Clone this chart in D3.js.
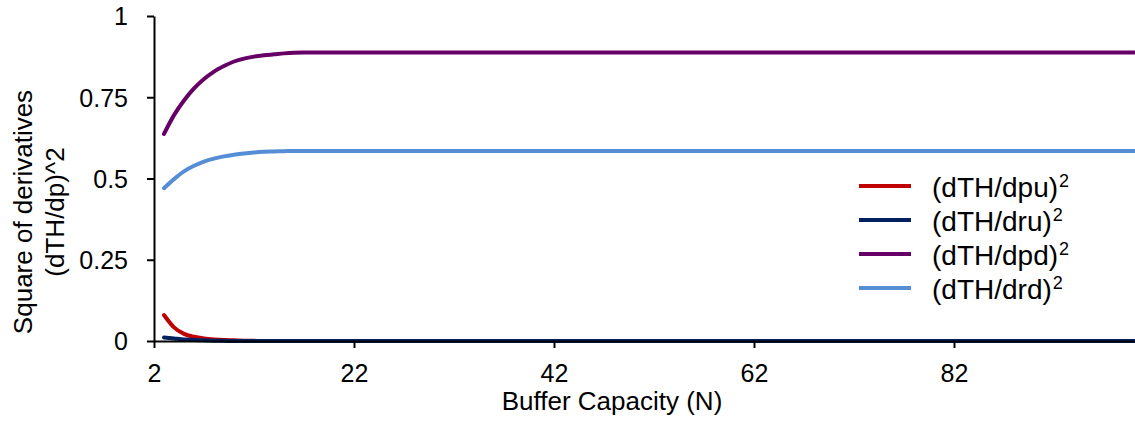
<!DOCTYPE html>
<html>
<head>
<meta charset="utf-8">
<script src="https://cdn.jsdelivr.net/npm/d3@7"></script>
<style>
  html, body { margin: 0; padding: 0; background: #fff; }
  svg { display: block; font-family: "Liberation Sans", Arial, sans-serif; }
</style>
</head>
<body>
<svg id="chart" width="1135" height="426"></svg>
<script>
// Buffer capacity values (N)
const capacity = [3, 4, 5, 6, 7, 8, 9, 10, 11, 12, 13, 14, 15, 16, 17, 18, 20, 30, 40, 50, 60, 70, 80, 90, 100];

// Squared sensitivities of throughput to each parameter
const dpu = [0.080, 0.042, 0.022, 0.013, 0.008, 0.005, 0.003, 0.002, 0.001, 0.0005, 0, 0, 0, 0, 0, 0, 0, 0, 0, 0, 0, 0, 0, 0, 0];
const dru = [0.011, 0.008, 0.005, 0.003, 0.002, 0.001, 0.0005, 0, 0, 0, 0, 0, 0, 0, 0, 0, 0, 0, 0, 0, 0, 0, 0, 0, 0];
const dpd = [0.637, 0.695, 0.740, 0.777, 0.806, 0.829, 0.846, 0.860, 0.869, 0.875, 0.879, 0.882, 0.885, 0.887, 0.888, 0.888, 0.888, 0.888, 0.888, 0.888, 0.888, 0.888, 0.888, 0.888, 0.888];
const drd = [0.470, 0.498, 0.522, 0.539, 0.552, 0.561, 0.568, 0.573, 0.577, 0.580, 0.582, 0.583, 0.584, 0.585, 0.585, 0.585, 0.585, 0.585, 0.585, 0.585, 0.585, 0.585, 0.585, 0.585, 0.585];

const seriesNames = ["(dTH/dpu)", "(dTH/dru)", "(dTH/dpd)", "(dTH/drd)"];
const seriesColors = ["#c00000", "#002060", "#660066", "#558ed5"];
const seriesValues = [dpu, dru, dpd, drd];

const xTicks = [2, 22, 42, 62, 82];
const yTicks = [0, 0.25, 0.5, 0.75, 1];
const yTickLabels = ["0", "0.25", "0.5", "0.75", "1"];

const svg = d3.select("#chart");
const x = d3.scaleLinear().domain([2, 100]).range([154, 1134]);
const y = d3.scaleLinear().domain([0, 1]).range([341, 16]);

const tickFont = 25;
const titleFont = 26;
const legendFont = 28;

// Series lines
const line = d3.line()
  .x((d, i) => x(capacity[i]))
  .y(d => y(d))
  .curve(d3.curveMonotoneX);

svg.append("g").selectAll("path")
  .data(seriesValues)
  .join("path")
  .attr("d", d => line(d))
  .attr("fill", "none")
  .attr("stroke", (d, i) => seriesColors[i])
  .attr("stroke-width", 4)
  .attr("stroke-linecap", "round")
  .attr("stroke-linejoin", "round");

// Y axis
const yAxis = svg.append("g")
  .attr("transform", `translate(${x(2)},0)`)
  .call(d3.axisLeft(y).tickValues(yTicks).tickFormat((d, i) => yTickLabels[i]).tickSize(7).tickSizeOuter(0));
yAxis.select(".domain").attr("stroke", "#000").attr("stroke-width", 2);
yAxis.selectAll(".tick line").attr("stroke", "#000").attr("stroke-width", 2);
yAxis.selectAll(".tick text")
  .attr("font-size", tickFont)
  .attr("font-family", "Liberation Sans, Arial, sans-serif")
  .attr("fill", "#000")
  .attr("x", -26)
  .attr("dy", "0.35em");

// X axis
const xAxis = svg.append("g")
  .attr("transform", `translate(0,${y(0)})`)
  .call(d3.axisBottom(x).tickValues(xTicks).tickSize(7).tickSizeOuter(0));
xAxis.select(".domain").attr("stroke", "#000").attr("stroke-width", 2);
xAxis.selectAll(".tick line").attr("stroke", "#000").attr("stroke-width", 2);
xAxis.selectAll(".tick text")
  .attr("font-size", tickFont)
  .attr("font-family", "Liberation Sans, Arial, sans-serif")
  .attr("fill", "#000")
  .attr("y", 41)
  .attr("dy", 0);

// Axis titles
svg.append("text")
  .attr("x", 612)
  .attr("y", 410)
  .attr("text-anchor", "middle")
  .attr("font-size", titleFont)
  .attr("fill", "#000")
  .text("Buffer Capacity (N)");

const yTitle = svg.append("text")
  .attr("transform", "translate(0,212) rotate(-90)")
  .attr("text-anchor", "middle")
  .attr("font-size", titleFont)
  .attr("fill", "#000");
yTitle.append("tspan").attr("x", 0).attr("y", 32).text("Square of derivatives");
yTitle.append("tspan").attr("x", 0).attr("y", 64).text("(dTH/dp)^2");

// Legend
const legend = svg.append("g");
const rows = legend.selectAll("g")
  .data(seriesNames)
  .join("g")
  .attr("transform", (d, i) => `translate(0,${186 + i * 34})`);
rows.append("line")
  .attr("x1", 859).attr("x2", 911)
  .attr("y1", 0).attr("y2", 0)
  .attr("stroke", (d, i) => seriesColors[i])
  .attr("stroke-width", 4);
const labels = rows.append("text")
  .attr("x", 932)
  .attr("y", 11)
  .attr("font-size", legendFont)
  .attr("fill", "#000");
labels.append("tspan").text(d => d);
labels.append("tspan")
  .attr("font-size", 18)
  .attr("dx", 1)
  .attr("dy", -10)
  .text("2");
</script>
</body>
</html>
